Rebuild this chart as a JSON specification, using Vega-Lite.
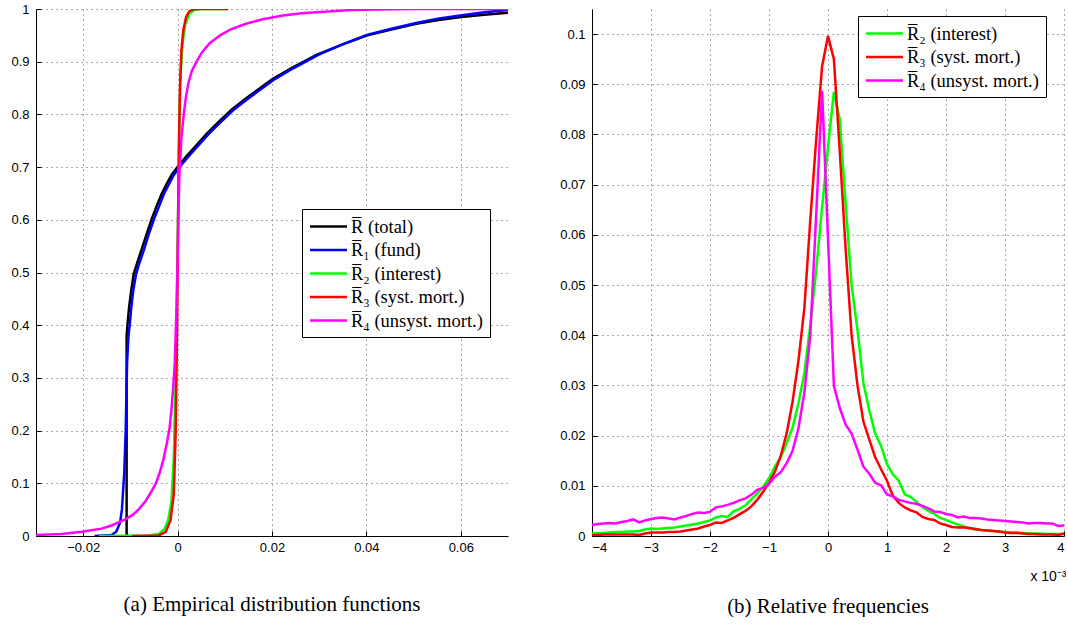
{
  "$schema": "https://vega.github.io/schema/vega-lite/v6.json",
  "background": "white",
  "padding": {"left": 10, "top": 3, "right": 0, "bottom": 0},
  "spacing": 51,
  "config": {
    "view": {"stroke": null},
    "axis": {
      "labelFont": "Liberation Sans", "labelFontSize": 13, "labelColor": "black",
      "domainColor": "black", "domainWidth": 1, "tickColor": "black", "tickSize": -5, "tickWidth": 1,
      "gridColor": "#555555", "gridDash": [1, 4], "gridWidth": 1, "gridOpacity": 1,
      "titleFont": "Liberation Sans", "titleFontWeight": "normal", "titleColor": "black"
    },
    "axisX": {"labelPadding": 10},
    "axisY": {"labelPadding": 12},
    "title": {"font": "Liberation Serif", "fontSize": 21, "fontWeight": "normal", "color": "black", "orient": "bottom"},
    "legend": {
      "orient": "none", "title": null, "symbolType": "M-2,0H2", "symbolSize": 342, "symbolStrokeWidth": 2.5,
      "symbolOffset": 9, "labelOffset": 12, "labelFont": "Liberation Serif", "labelFontSize": 18.5, "labelColor": "black",
      "labelLimit": 400, "strokeColor": "black", "fillColor": "white", "padding": 7, "rowPadding": 3.5, "cornerRadius": 0
    }
  },
  "resolve": {"scale": {"color": "independent", "x": "independent", "y": "independent"}, "legend": {"color": "independent"}},
  "hconcat": [
    {
      "width": 472, "height": 527,
      "title": {"text": "(a)  Empirical distribution functions", "offset": 40},
      "data": {"values": [
        {"s": "R0", "i": 1, "x": -0.0108, "F": 0},
        {"s": "R0", "i": 2, "x": -0.0108, "F": 0.38},
        {"s": "R0", "i": 3, "x": -0.01058, "F": 0.405},
        {"s": "R0", "i": 4, "x": -0.01026, "F": 0.435},
        {"s": "R0", "i": 5, "x": -0.00984, "F": 0.465},
        {"s": "R0", "i": 6, "x": -0.00931, "F": 0.497},
        {"s": "R0", "i": 7, "x": -0.00868, "F": 0.515},
        {"s": "R0", "i": 8, "x": -0.00762, "F": 0.544},
        {"s": "R0", "i": 9, "x": -0.00656, "F": 0.573},
        {"s": "R0", "i": 10, "x": -0.00550, "F": 0.601},
        {"s": "R0", "i": 11, "x": -0.00444, "F": 0.626},
        {"s": "R0", "i": 12, "x": -0.00339, "F": 0.649},
        {"s": "R0", "i": 13, "x": -0.00233, "F": 0.668},
        {"s": "R0", "i": 14, "x": -0.00127, "F": 0.685},
        {"s": "R0", "i": 15, "x": 0.00021, "F": 0.703},
        {"s": "R0", "i": 16, "x": 0.00190, "F": 0.721},
        {"s": "R0", "i": 17, "x": 0.00402, "F": 0.742},
        {"s": "R0", "i": 18, "x": 0.00614, "F": 0.763},
        {"s": "R0", "i": 19, "x": 0.00868, "F": 0.786},
        {"s": "R0", "i": 20, "x": 0.01143, "F": 0.809},
        {"s": "R0", "i": 21, "x": 0.01460, "F": 0.831},
        {"s": "R0", "i": 22, "x": 0.01778, "F": 0.852},
        {"s": "R0", "i": 23, "x": 0.02011, "F": 0.867},
        {"s": "R0", "i": 24, "x": 0.02413, "F": 0.888},
        {"s": "R0", "i": 25, "x": 0.02942, "F": 0.913},
        {"s": "R0", "i": 26, "x": 0.03471, "F": 0.932},
        {"s": "R0", "i": 27, "x": 0.04021, "F": 0.950},
        {"s": "R0", "i": 28, "x": 0.04529, "F": 0.961},
        {"s": "R0", "i": 29, "x": 0.05058, "F": 0.972},
        {"s": "R0", "i": 30, "x": 0.05524, "F": 0.979},
        {"s": "R0", "i": 31, "x": 0.06011, "F": 0.985},
        {"s": "R0", "i": 32, "x": 0.06497, "F": 0.989},
        {"s": "R0", "i": 33, "x": 0.07005, "F": 0.993},
        {"s": "R1", "i": 1, "x": -0.0176, "F": 0},
        {"s": "R1", "i": 2, "x": -0.0140, "F": 0.002},
        {"s": "R1", "i": 3, "x": -0.0130, "F": 0.008},
        {"s": "R1", "i": 4, "x": -0.0122, "F": 0.025},
        {"s": "R1", "i": 5, "x": -0.0118, "F": 0.05},
        {"s": "R1", "i": 6, "x": -0.0113, "F": 0.12},
        {"s": "R1", "i": 7, "x": -0.0110, "F": 0.2},
        {"s": "R1", "i": 8, "x": -0.0107, "F": 0.33},
        {"s": "R1", "i": 9, "x": -0.0104, "F": 0.38},
        {"s": "R1", "i": 10, "x": -0.0101, "F": 0.405},
        {"s": "R1", "i": 11, "x": -0.0098, "F": 0.435},
        {"s": "R1", "i": 12, "x": -0.0094, "F": 0.465},
        {"s": "R1", "i": 13, "x": -0.0088, "F": 0.497},
        {"s": "R1", "i": 14, "x": -0.0082, "F": 0.515},
        {"s": "R1", "i": 15, "x": -0.0071, "F": 0.544},
        {"s": "R1", "i": 16, "x": -0.0061, "F": 0.573},
        {"s": "R1", "i": 17, "x": -0.0050, "F": 0.601},
        {"s": "R1", "i": 18, "x": -0.0039, "F": 0.626},
        {"s": "R1", "i": 19, "x": -0.0029, "F": 0.649},
        {"s": "R1", "i": 20, "x": -0.0018, "F": 0.668},
        {"s": "R1", "i": 21, "x": -0.0008, "F": 0.685},
        {"s": "R1", "i": 22, "x": 0.0007, "F": 0.703},
        {"s": "R1", "i": 23, "x": 0.0024, "F": 0.721},
        {"s": "R1", "i": 24, "x": 0.0045, "F": 0.742},
        {"s": "R1", "i": 25, "x": 0.0066, "F": 0.763},
        {"s": "R1", "i": 26, "x": 0.0092, "F": 0.786},
        {"s": "R1", "i": 27, "x": 0.0119, "F": 0.809},
        {"s": "R1", "i": 28, "x": 0.0151, "F": 0.831},
        {"s": "R1", "i": 29, "x": 0.0183, "F": 0.852},
        {"s": "R1", "i": 30, "x": 0.0206, "F": 0.867},
        {"s": "R1", "i": 31, "x": 0.0246, "F": 0.888},
        {"s": "R1", "i": 32, "x": 0.0298, "F": 0.913},
        {"s": "R1", "i": 33, "x": 0.0349, "F": 0.933},
        {"s": "R1", "i": 34, "x": 0.0401, "F": 0.951},
        {"s": "R1", "i": 35, "x": 0.0455, "F": 0.963},
        {"s": "R1", "i": 36, "x": 0.0508, "F": 0.974},
        {"s": "R1", "i": 37, "x": 0.0554, "F": 0.982},
        {"s": "R1", "i": 38, "x": 0.0603, "F": 0.988},
        {"s": "R1", "i": 39, "x": 0.0650, "F": 0.994},
        {"s": "R1", "i": 40, "x": 0.0700, "F": 0.998},
        {"s": "R2", "i": 1, "x": -0.0167, "F": 0},
        {"s": "R2", "i": 2, "x": -0.0060, "F": 0.001},
        {"s": "R2", "i": 3, "x": -0.0040, "F": 0.004},
        {"s": "R2", "i": 4, "x": -0.0028, "F": 0.013},
        {"s": "R2", "i": 5, "x": -0.0020, "F": 0.03},
        {"s": "R2", "i": 6, "x": -0.0013, "F": 0.065},
        {"s": "R2", "i": 7, "x": -0.0008, "F": 0.15},
        {"s": "R2", "i": 8, "x": -0.0004, "F": 0.3},
        {"s": "R2", "i": 9, "x": 0.0000, "F": 0.55},
        {"s": "R2", "i": 10, "x": 0.0003, "F": 0.75},
        {"s": "R2", "i": 11, "x": 0.0006, "F": 0.87},
        {"s": "R2", "i": 12, "x": 0.0010, "F": 0.93},
        {"s": "R2", "i": 13, "x": 0.0016, "F": 0.97},
        {"s": "R2", "i": 14, "x": 0.0024, "F": 0.99},
        {"s": "R2", "i": 15, "x": 0.0035, "F": 0.998},
        {"s": "R2", "i": 16, "x": 0.0050, "F": 1},
        {"s": "R2", "i": 17, "x": 0.0107, "F": 1},
        {"s": "R3", "i": 1, "x": -0.0097, "F": 0},
        {"s": "R3", "i": 2, "x": -0.0040, "F": 0.001},
        {"s": "R3", "i": 3, "x": -0.0025, "F": 0.008},
        {"s": "R3", "i": 4, "x": -0.0015, "F": 0.03},
        {"s": "R3", "i": 5, "x": -0.0008, "F": 0.08},
        {"s": "R3", "i": 6, "x": -0.0004, "F": 0.2},
        {"s": "R3", "i": 7, "x": -0.0001, "F": 0.4},
        {"s": "R3", "i": 8, "x": 0.0001, "F": 0.6},
        {"s": "R3", "i": 9, "x": 0.0003, "F": 0.75},
        {"s": "R3", "i": 10, "x": 0.0005, "F": 0.85},
        {"s": "R3", "i": 11, "x": 0.0008, "F": 0.92},
        {"s": "R3", "i": 12, "x": 0.0012, "F": 0.96},
        {"s": "R3", "i": 13, "x": 0.0018, "F": 0.985},
        {"s": "R3", "i": 14, "x": 0.0025, "F": 0.996},
        {"s": "R3", "i": 15, "x": 0.0035, "F": 1},
        {"s": "R3", "i": 16, "x": 0.0107, "F": 1},
        {"s": "R4", "i": 1, "x": -0.0300, "F": 0.002},
        {"s": "R4", "i": 2, "x": -0.0246, "F": 0.004},
        {"s": "R4", "i": 3, "x": -0.0203, "F": 0.008},
        {"s": "R4", "i": 4, "x": -0.0161, "F": 0.014},
        {"s": "R4", "i": 5, "x": -0.0140, "F": 0.02},
        {"s": "R4", "i": 6, "x": -0.0112, "F": 0.031},
        {"s": "R4", "i": 7, "x": -0.0095, "F": 0.04},
        {"s": "R4", "i": 8, "x": -0.0083, "F": 0.05},
        {"s": "R4", "i": 9, "x": -0.0068, "F": 0.066},
        {"s": "R4", "i": 10, "x": -0.0055, "F": 0.085},
        {"s": "R4", "i": 11, "x": -0.0046, "F": 0.10},
        {"s": "R4", "i": 12, "x": -0.0038, "F": 0.12},
        {"s": "R4", "i": 13, "x": -0.0030, "F": 0.145},
        {"s": "R4", "i": 14, "x": -0.0023, "F": 0.175},
        {"s": "R4", "i": 15, "x": -0.0017, "F": 0.205},
        {"s": "R4", "i": 16, "x": -0.0013, "F": 0.24},
        {"s": "R4", "i": 17, "x": -0.0009, "F": 0.285},
        {"s": "R4", "i": 18, "x": -0.0006, "F": 0.33},
        {"s": "R4", "i": 19, "x": -0.0002, "F": 0.44},
        {"s": "R4", "i": 20, "x": 0.0000, "F": 0.52},
        {"s": "R4", "i": 21, "x": 0.0002, "F": 0.62},
        {"s": "R4", "i": 22, "x": 0.0004, "F": 0.69},
        {"s": "R4", "i": 23, "x": 0.0008, "F": 0.755},
        {"s": "R4", "i": 24, "x": 0.0013, "F": 0.80},
        {"s": "R4", "i": 25, "x": 0.0018, "F": 0.835},
        {"s": "R4", "i": 26, "x": 0.0023, "F": 0.86},
        {"s": "R4", "i": 27, "x": 0.0030, "F": 0.882},
        {"s": "R4", "i": 28, "x": 0.0040, "F": 0.90},
        {"s": "R4", "i": 29, "x": 0.0052, "F": 0.918},
        {"s": "R4", "i": 30, "x": 0.0068, "F": 0.935},
        {"s": "R4", "i": 31, "x": 0.0090, "F": 0.950},
        {"s": "R4", "i": 32, "x": 0.0114, "F": 0.962},
        {"s": "R4", "i": 33, "x": 0.0145, "F": 0.972},
        {"s": "R4", "i": 34, "x": 0.0178, "F": 0.980},
        {"s": "R4", "i": 35, "x": 0.0220, "F": 0.987},
        {"s": "R4", "i": 36, "x": 0.0262, "F": 0.992},
        {"s": "R4", "i": 37, "x": 0.0310, "F": 0.995},
        {"s": "R4", "i": 38, "x": 0.0368, "F": 0.998},
        {"s": "R4", "i": 39, "x": 0.0450, "F": 0.9995},
        {"s": "R4", "i": 40, "x": 0.0516, "F": 1},
        {"s": "R4", "i": 41, "x": 0.0700, "F": 1}
      ]},
      "mark": {"type": "line", "strokeWidth": 2.5, "clip": true},
      "encoding": {
        "x": {"field": "x", "type": "quantitative",
          "scale": {"domain": [-0.03, 0.07], "nice": false, "zero": false},
          "axis": {"title": null, "values": [-0.02, 0, 0.02, 0.04, 0.06], "format": "~g"}},
        "y": {"field": "F", "type": "quantitative",
          "scale": {"domain": [0, 1], "nice": false},
          "axis": {"title": null, "values": [0, 0.1, 0.2, 0.3, 0.4, 0.5, 0.6, 0.7, 0.8, 0.9, 1], "format": "~g"}},
        "color": {"field": "s", "type": "nominal",
          "scale": {"domain": ["R0", "R1", "R2", "R3", "R4"], "range": ["#000000", "#0000ff", "#00ff00", "#ff0000", "#ff00ff"]},
          "legend": {"legendX": 266, "legendY": 200, "labelFont": "Liberation Serif", "labelFontSize": 18.5,
            "labelExpr": "datum.label == 'R0' ? 'R\u0305  (total)' : datum.label == 'R1' ? 'R\u0305\u2081 (fund)' : datum.label == 'R2' ? 'R\u0305\u2082 (interest)' : datum.label == 'R3' ? 'R\u0305\u2083 (syst. mort.)' : 'R\u0305\u2084 (unsyst. mort.)'"}},
        "order": {"field": "i", "type": "quantitative"}
      }
    },
    {
      "width": 472, "height": 527,
      "title": {"text": "(b)  Relative frequencies", "offset": 13},
      "data": {"values": [
        {"x": -4.0, "R2": 0.0005, "R3": 0.0002, "R4": 0.0022},
        {"x": -3.9, "R2": 0.0006, "R3": 0.0002, "R4": 0.0024},
        {"x": -3.8, "R2": 0.0006, "R3": 0.0003, "R4": 0.0025},
        {"x": -3.7, "R2": 0.0007, "R3": 0.0003, "R4": 0.0026},
        {"x": -3.6, "R2": 0.0008, "R3": 0.0003, "R4": 0.0025},
        {"x": -3.5, "R2": 0.0008, "R3": 0.0003, "R4": 0.0028},
        {"x": -3.4, "R2": 0.0009, "R3": 0.0003, "R4": 0.0030},
        {"x": -3.3, "R2": 0.0009, "R3": 0.0003, "R4": 0.0033},
        {"x": -3.2, "R2": 0.0010, "R3": 0.0002, "R4": 0.0027},
        {"x": -3.1, "R2": 0.0013, "R3": 0.0005, "R4": 0.0031},
        {"x": -3.0, "R2": 0.0015, "R3": 0.0007, "R4": 0.0034},
        {"x": -2.9, "R2": 0.0014, "R3": 0.0007, "R4": 0.0036},
        {"x": -2.8, "R2": 0.0015, "R3": 0.0007, "R4": 0.0037},
        {"x": -2.7, "R2": 0.0016, "R3": 0.0008, "R4": 0.0035},
        {"x": -2.6, "R2": 0.0017, "R3": 0.0008, "R4": 0.0033},
        {"x": -2.5, "R2": 0.0019, "R3": 0.0009, "R4": 0.0037},
        {"x": -2.4, "R2": 0.0021, "R3": 0.0011, "R4": 0.0040},
        {"x": -2.3, "R2": 0.0023, "R3": 0.0013, "R4": 0.0044},
        {"x": -2.2, "R2": 0.0025, "R3": 0.0015, "R4": 0.0047},
        {"x": -2.1, "R2": 0.0028, "R3": 0.0019, "R4": 0.0046},
        {"x": -2.0, "R2": 0.0031, "R3": 0.0022, "R4": 0.0048},
        {"x": -1.9, "R2": 0.0037, "R3": 0.0027, "R4": 0.0057},
        {"x": -1.8, "R2": 0.0040, "R3": 0.0026, "R4": 0.0059},
        {"x": -1.7, "R2": 0.0038, "R3": 0.0031, "R4": 0.0062},
        {"x": -1.6, "R2": 0.0049, "R3": 0.0036, "R4": 0.0066},
        {"x": -1.5, "R2": 0.0054, "R3": 0.0043, "R4": 0.0071},
        {"x": -1.4, "R2": 0.0061, "R3": 0.0050, "R4": 0.0075},
        {"x": -1.3, "R2": 0.0073, "R3": 0.0059, "R4": 0.0082},
        {"x": -1.2, "R2": 0.0085, "R3": 0.0072, "R4": 0.0092},
        {"x": -1.1, "R2": 0.0098, "R3": 0.0088, "R4": 0.0096},
        {"x": -1.0, "R2": 0.0115, "R3": 0.0106, "R4": 0.0104},
        {"x": -0.9, "R2": 0.0138, "R3": 0.0128, "R4": 0.0118},
        {"x": -0.8, "R2": 0.0157, "R3": 0.0160, "R4": 0.0127},
        {"x": -0.7, "R2": 0.0185, "R3": 0.0205, "R4": 0.0145},
        {"x": -0.6, "R2": 0.0216, "R3": 0.0268, "R4": 0.0170},
        {"x": -0.5, "R2": 0.0265, "R3": 0.0350, "R4": 0.0215},
        {"x": -0.4, "R2": 0.0325, "R3": 0.0455, "R4": 0.0286},
        {"x": -0.3, "R2": 0.0420, "R3": 0.0630, "R4": 0.0400},
        {"x": -0.2, "R2": 0.0530, "R3": 0.0790, "R4": 0.0640},
        {"x": -0.1, "R2": 0.0655, "R3": 0.0936, "R4": 0.0887},
        {"x": 0.0, "R2": 0.0775, "R3": 0.0996, "R4": 0.0593},
        {"x": 0.1, "R2": 0.0885, "R3": 0.0950, "R4": 0.0299},
        {"x": 0.2, "R2": 0.0830, "R3": 0.0765, "R4": 0.0255},
        {"x": 0.3, "R2": 0.0660, "R3": 0.0570, "R4": 0.0222},
        {"x": 0.4, "R2": 0.0500, "R3": 0.0400, "R4": 0.0204},
        {"x": 0.5, "R2": 0.0410, "R3": 0.0300, "R4": 0.0172},
        {"x": 0.6, "R2": 0.0305, "R3": 0.0228, "R4": 0.0138},
        {"x": 0.7, "R2": 0.0250, "R3": 0.0192, "R4": 0.0124},
        {"x": 0.8, "R2": 0.0204, "R3": 0.0157, "R4": 0.0106},
        {"x": 0.9, "R2": 0.0179, "R3": 0.0133, "R4": 0.0101},
        {"x": 1.0, "R2": 0.0143, "R3": 0.0110, "R4": 0.0083},
        {"x": 1.1, "R2": 0.0123, "R3": 0.0080, "R4": 0.0079},
        {"x": 1.2, "R2": 0.0110, "R3": 0.0066, "R4": 0.0072},
        {"x": 1.3, "R2": 0.0083, "R3": 0.0057, "R4": 0.0069},
        {"x": 1.4, "R2": 0.0078, "R3": 0.0051, "R4": 0.0066},
        {"x": 1.5, "R2": 0.0068, "R3": 0.0047, "R4": 0.0064},
        {"x": 1.6, "R2": 0.0058, "R3": 0.0038, "R4": 0.0060},
        {"x": 1.7, "R2": 0.0050, "R3": 0.0034, "R4": 0.0055},
        {"x": 1.8, "R2": 0.0044, "R3": 0.0032, "R4": 0.0049},
        {"x": 1.9, "R2": 0.0036, "R3": 0.0025, "R4": 0.0048},
        {"x": 2.0, "R2": 0.0032, "R3": 0.0022, "R4": 0.0044},
        {"x": 2.1, "R2": 0.0027, "R3": 0.0018, "R4": 0.0042},
        {"x": 2.2, "R2": 0.0023, "R3": 0.0017, "R4": 0.0037},
        {"x": 2.3, "R2": 0.0019, "R3": 0.0017, "R4": 0.0039},
        {"x": 2.4, "R2": 0.0015, "R3": 0.0016, "R4": 0.0036},
        {"x": 2.5, "R2": 0.0013, "R3": 0.0014, "R4": 0.0036},
        {"x": 2.6, "R2": 0.0012, "R3": 0.0012, "R4": 0.0035},
        {"x": 2.7, "R2": 0.0011, "R3": 0.0011, "R4": 0.0033},
        {"x": 2.8, "R2": 0.0010, "R3": 0.0010, "R4": 0.0032},
        {"x": 2.9, "R2": 0.0009, "R3": 0.0009, "R4": 0.0031},
        {"x": 3.0, "R2": 0.0008, "R3": 0.0007, "R4": 0.0030},
        {"x": 3.1, "R2": 0.0007, "R3": 0.0006, "R4": 0.0029},
        {"x": 3.2, "R2": 0.0007, "R3": 0.0006, "R4": 0.0028},
        {"x": 3.3, "R2": 0.0006, "R3": 0.0005, "R4": 0.0027},
        {"x": 3.4, "R2": 0.0005, "R3": 0.0004, "R4": 0.0025},
        {"x": 3.5, "R2": 0.0005, "R3": 0.0004, "R4": 0.0026},
        {"x": 3.6, "R2": 0.0005, "R3": 0.0003, "R4": 0.0026},
        {"x": 3.7, "R2": 0.0004, "R3": 0.0003, "R4": 0.0025},
        {"x": 3.8, "R2": 0.0004, "R3": 0.0003, "R4": 0.0025},
        {"x": 3.9, "R2": 0.0004, "R3": 0.0002, "R4": 0.0020},
        {"x": 4.0, "R2": 0.0004, "R3": 0.0005, "R4": 0.0021}
      ]},
      "transform": [{"fold": ["R2", "R3", "R4"], "as": ["s", "f"]}],
      "mark": {"type": "line", "strokeWidth": 2.5, "clip": true},
      "encoding": {
        "x": {"field": "x", "type": "quantitative",
          "scale": {"domain": [-4, 4], "nice": false, "zero": false},
          "axis": {"title": "x 10\u207B\u00B3", "titleFontSize": 14, "titleAnchor": "end", "titleAlign": "right", "titleX": 474, "titleY": 33,
            "values": [-4, -3, -2, -1, 0, 1, 2, 3, 4], "format": "d"}},
        "y": {"field": "f", "type": "quantitative",
          "scale": {"domain": [0, 0.105], "nice": false},
          "axis": {"title": null, "values": [0, 0.01, 0.02, 0.03, 0.04, 0.05, 0.06, 0.07, 0.08, 0.09, 0.1], "format": "~g"}},
        "color": {"field": "s", "type": "nominal",
          "scale": {"domain": ["R2", "R3", "R4"], "range": ["#00ff00", "#ff0000", "#ff00ff"]},
          "legend": {"legendX": 266, "legendY": 7, "labelFont": "Liberation Serif", "labelFontSize": 18.5,
            "labelExpr": "datum.label == 'R2' ? 'R\u0305\u2082 (interest)' : datum.label == 'R3' ? 'R\u0305\u2083 (syst. mort.)' : 'R\u0305\u2084 (unsyst. mort.)'"}}
      }
    }
  ]
}
